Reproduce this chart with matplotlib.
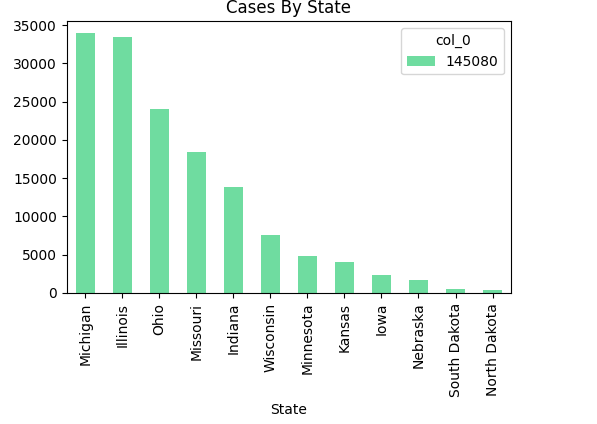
import matplotlib
matplotlib.use("Agg")
import matplotlib.pyplot as plt

states = ['Michigan', 'Illinois', 'Ohio', 'Missouri', 'Indiana', 'Wisconsin',
          'Minnesota', 'Kansas', 'Iowa', 'Nebraska', 'South Dakota', 'North Dakota']
cases = [34000, 33500, 24000, 18400, 13800, 7600, 4800, 4000, 2300, 1730, 550, 400]

fig = plt.figure(figsize=(5.97, 4.24), dpi=100)
ax = fig.add_axes([0.112, 0.309, 0.744, 0.641])
x = range(len(states))
ax.bar(x, cases, width=0.5, color='#6fdca0', label='145080')
ax.set_xticks(list(x))
ax.set_xticklabels(states, rotation=90)
ax.set_xlim(-0.5, len(states) - 0.5)
ax.set_ylim(0, 35500)
ax.set_xlabel('State')
ax.set_title('Cases By State')
ax.legend(title='col_0', loc='upper right')
fig.savefig('out.png', dpi=100)
